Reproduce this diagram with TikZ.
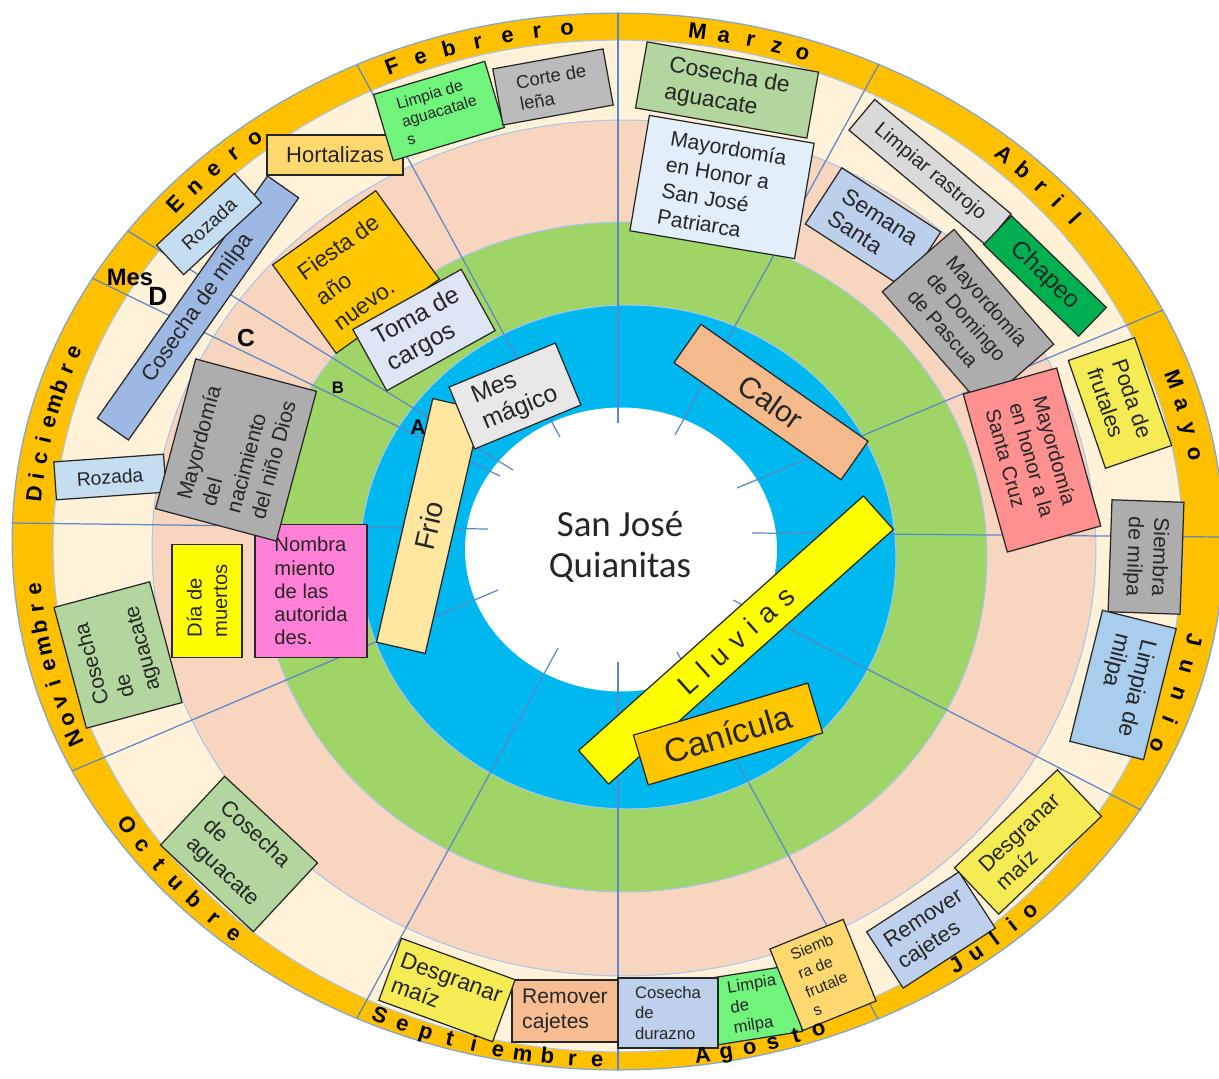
\documentclass[tikz,border=0pt]{standalone}
\usepackage{fontspec}
\setmainfont{Liberation Sans}
\newfontfamily\calfont{Carlito}
\definecolor{cOrange}{HTML}{FFC000}
\definecolor{cCream}{HTML}{FFF2D8}
\definecolor{cSalmon}{HTML}{F8D5BE}
\definecolor{cGreen}{HTML}{9FD466}
\definecolor{cBlue}{HTML}{00B8F0}
\definecolor{cEdge}{HTML}{A9C6EA}
\definecolor{cEdgeOut}{HTML}{7EA6D8}
\definecolor{cRay}{HTML}{5B87C9}
\definecolor{cHort}{HTML}{FFD970}
\definecolor{cRoz}{HTML}{C5DDF1}
\definecolor{cMilpa}{HTML}{9DB9E3}
\definecolor{cLimG}{HTML}{70F47C}
\definecolor{cGrayA}{HTML}{BBBBBB}
\definecolor{cCos}{HTML}{B2D69E}
\definecolor{cMayJ}{HTML}{E2EEF9}
\definecolor{cLgray}{HTML}{D9D9D9}
\definecolor{cChap}{HTML}{00B050}
\definecolor{cSem}{HTML}{BCCFEB}
\definecolor{cGrayB}{HTML}{ADADAD}
\definecolor{cYel}{HTML}{F5EC55}
\definecolor{cYelB}{HTML}{FFFF00}
\definecolor{cPink}{HTML}{FF9090}
\definecolor{cLimB}{HTML}{A8CDED}
\definecolor{cRem}{HTML}{BFD0EC}
\definecolor{cSal}{HTML}{F6BD93}
\definecolor{cMag}{HTML}{FF80D6}
\definecolor{cFies}{HTML}{FFC700}
\definecolor{cToma}{HTML}{DEE5F5}
\definecolor{cMesM}{HTML}{E8E8E8}
\definecolor{cFrio}{HTML}{FFE7A0}
\definecolor{cCal}{HTML}{F5BA8C}
\newcommand\fs[2]{\fontsize{#1}{#2}\selectfont}
\newcommand\lsp{\hspace{0.35em}}
\newcommand\grey{\color{black!68}}
\newcommand\bxnode[9]{\node[bx, fill=#7, minimum width=#4*0.02cm, minimum height=#5*0.02cm, rotate=#6, font=#8] (#1) at (#2,#3) {#9};}
\newcommand\monthword[5]{%
  \foreach \ch [count=\k from 0] in {#5}{%
    \pgfmathsetmacro\ang{#2+\k*(#3)}%
    \pgfmathsetmacro\mx{618+(585.5+(#4)*6.5)*cos(\ang)}%
    \pgfmathsetmacro\my{544-(517+(#4)*6.5)*sin(\ang)}%
    \pgfmathsetmacro\rot{atan2((#4)*517*cos(\ang), -(#4)*585.5*sin(\ang))}%
    \node[mletter, rotate=\rot] (#1-\k) at (\mx,\my) {\ch};
  }}
\begin{document}
\begin{tikzpicture}[x=0.02cm, y=-0.02cm,
  bx/.style={draw=black!85, line width=0.7pt, inner sep=1pt, align=left, text=black!85},
  mletter/.style={inner sep=0pt, anchor=base, font=\fs{12.5}{14}\bfseries},
  ring/.style={draw=cEdge, line width=0.6pt},
  ray/.style={draw=cRay, line width=0.7pt},
  lbl/.style={inner sep=0pt, text=black}]
\useasboundingbox (0,0) rectangle (1219,1078);
\fill[white] (0,0) rectangle (1219,1078);
% rings
\path[draw=cEdgeOut, line width=0.7pt, fill=cOrange] (618,541.5) ellipse [x radius=12.12cm, y radius=10.57cm];
\path[ring, fill=cCream] (618,546) ellipse [x radius=11.30cm, y radius=10.12cm];
\path[ring, fill=cSalmon] (624,548) ellipse [x radius=9.44cm, y radius=8.56cm];
\path[ring, fill=cGreen] (624,557) ellipse [x radius=7.26cm, y radius=6.70cm];
\path[ring, fill=cBlue] (628,557) ellipse [x radius=5.36cm, y radius=5.04cm];
\path[fill=white] (621,549.5) ellipse [x radius=3.12cm, y radius=2.84cm];
% rays
\foreach \xa/\ya/\xb/\yb in {618/13/618/423, 879/64/675/435, 1163/310/737/488,
  1222/537/752/533, 1141/810/733/600, 878/1019/677/652, 618/1070/618/662,
  357/1018/558/648, 72/771/498/590, 12/523/488/529, 92/278/500/476,
  128/231/513/470, 357/65/560/437}
  \draw[ray] (\xa,\ya) -- (\xb,\yb);
% boxes
\bxnode{hort}{335}{155}{136}{40}{0}{cHort}{\fs{12.5}{15}}{Hortalizas}
\bxnode{milpa}{198}{308}{296}{38}{54.9}{cMilpa}{\fs{12.5}{15}\grey}{Cosecha de milpa}
\bxnode{rozene}{209}{224}{106}{40}{42.7}{cRoz}{\fs{11}{13}\grey}{Rozada}
\bxnode{limagu}{439}{111}{116}{69}{16.6}{cLimG}{\fs{9}{10.5}\grey}{Limpia de\\aguacatale\\s}
\bxnode{corte}{553}{87}{112}{57}{10.3}{cGrayA}{\fs{10.5}{12.5}\grey}{Corte de\\leña}
\bxnode{cosmar}{727}{90}{174}{67}{-10}{cCos}{\fs{13}{15.5}}{Cosecha de\\aguacate}
\bxnode{mayjose}{722}{187}{167}{117}{-9.6}{cMayJ}{\fs{12}{15}}{Mayordomía\\en Honor a\\San José\\Patriarca}
\bxnode{rastrojo}{930}{172}{178}{40}{-40}{cLgray}{\fs{11.5}{14}\grey}{Limpiar rastrojo}
\bxnode{chapeo}{1045}{276}{132}{40}{-44}{cChap}{\fs{14}{16}}{Chapeo}
\bxnode{semana}{873}{228}{118}{67}{-33}{cSem}{\fs{13}{15}}{Semana\\Santa}
\bxnode{domingo}{968}{318}{152}{95}{-49}{cGrayB}{\fs{11.5}{14.5}}{Mayordomía\\de Domingo\\de Pascua}
\bxnode{cruz}{1032}{460}{164}{97}{-74.4}{cPink}{\fs{11.5}{14}}{Mayordomía\\en honor a la\\Santa Cruz}
\bxnode{poda}{1120}{403}{114}{70}{-71}{cYel}{\fs{12.5}{15}}{Poda de\\frutales}
\bxnode{siembra}{1146}{557}{112}{72}{-92}{cGrayB}{\fs{12}{14.5}}{Siembra\\de milpa}
\bxnode{limjun}{1123}{685}{135}{76}{-104}{cLimB}{\fs{13}{15}}{Limpia de\\milpa}
\bxnode{desjul}{1028}{842}{142}{64}{43.6}{cYel}{\fs{12.5}{14.5}}{Desgranar\\maíz}
\bxnode{remjul}{931}{930}{110}{67}{33}{cRem}{\fs{12.5}{14.5}\grey}{Remover\\cajetes}
\bxnode{limago}{755}{1005}{85}{67}{9}{cLimG}{\fs{9.5}{11.5}}{Limpia\\de\\milpa}
\bxnode{siefru}{823}{975}{79}{88}{22}{cHort}{\fs{9}{11.5}\grey}{Siemb\\ra de\\frutale\\s}
\bxnode{durazno}{668}{1013}{100}{70}{0}{cRem}{\fs{9.5}{11.5}\grey}{Cosecha\\de\\durazno}
\bxnode{remsep}{565}{1011}{106}{62}{0}{cSal}{\fs{12}{14.5}}{Remover\\cajetes}
\bxnode{dessep}{447}{990}{121}{66}{-20}{cYel}{\fs{13}{15}}{Desgranar\\maíz}
\bxnode{cosoct}{239}{854}{127}{94}{-43}{cCos}{\fs{12.5}{14}}{Cosecha\\de\\aguacate}
\bxnode{cosnov}{118}{655}{125}{99}{105}{cCos}{\fs{12}{15}}{Cosecha\\de\\aguacate}
\bxnode{rozdic}{110}{477}{110}{38}{4}{cRoz}{\fs{11}{13}\grey}{Rozada}
\bxnode{nombra}{311}{591}{112}{133}{0}{cMag}{\fs{11.5}{13.2}}{Nombra\\miento\\de las\\autorida\\des.}
\bxnode{naci}{236}{450}{155}{125}{75}{cGrayB}{\fs{12}{14.5}}{Mayordomía\\del\\nacimiento\\del niño Dios}
\bxnode{dia}{207}{601}{113}{70}{90}{cYelB}{\fs{11.5}{14.5}}{Día de\\muertos}
\bxnode{fiesta}{356}{272}{127}{109}{35.7}{cFies}{\fs{13}{17.5}}{Fiesta de\\año\\nuevo.}
\bxnode{toma}{424}{330}{124}{70}{29}{cToma}{\fs{14}{16.5}}{Toma de\\cargos}
\bxnode{frio}{429}{526}{250}{50}{77}{cFrio}{\fs{16}{18}}{Frio}
\bxnode{mesmag}{515}{396}{115}{67}{22.5}{cMesM}{\fs{14}{16}}{Mes\\mágico}
\bxnode{calor}{771}{402}{204}{47}{-35}{cCal}{\fs{17}{19}}{Calor}
\bxnode{lluvias}{736}{640}{382}{45}{41.8}{cYelB}{\fs{16}{18}}{L\lsp l\lsp u\lsp v\lsp i\lsp a\lsp s}
\bxnode{canicula}{728}{734}{182}{52}{16.6}{cFies}{\fs{19}{21}}{Canícula}
% ring labels
\node[lbl, font=\bfseries\fs{13.5}{15}] (mes) at (130,277) {Mes};
\node[lbl, font=\bfseries\fs{15}{17}] (labD) at (158,296) {D};
\node[lbl, font=\bfseries\fs{14}{16}] (labC) at (246,338) {C};
\node[lbl, font=\bfseries\fs{9.5}{11}] (labB) at (338,388) {B};
\node[lbl, font=\bfseries\fs{12}{14}] (labA) at (418,427) {A};
% centre
\node[font=\calfont\fs{21}{23}, align=center, text=black!85] (centre) at (620,547) {San José\\Quianitas};
% months
\monthword{ene}{139}{-2.65}{-1}{E,n,e,r,o}
\monthword{feb}{112.7}{-2.95}{-1}{F,e,b,r,e,r,o}
\monthword{mar}{82.2}{-2.65}{-1}{M,a,r,z,o}
\monthword{abr}{48.7}{-2.47}{-1}{A,b,r,i,l}
\monthword{may}{18.5}{-2.83}{-1}{M,a,y,o}
\monthword{jun}{-10.7}{-3.05}{-1}{J,u,n,i,o}
\monthword{jul}{-54.7}{2.35}{1}{J,u,l,i,o}
\monthword{ago}{-81.7}{2.34}{1}{A,g,o,s,t,o}
\monthword{sep}{246}{2.44}{1}{S,e,p,t,i,e,m,b,r,e}
\monthword{oct}{213}{2.67}{1}{O,c,t,u,b,r,e}
\monthword{nov}{202}{-2.125}{-1}{N,o,v,i,e,m,b,r,e}
\monthword{dic}{174.5}{-2.03}{-1}{D,i,c,i,e,m,b,r,e}
\end{tikzpicture}
\end{document}
